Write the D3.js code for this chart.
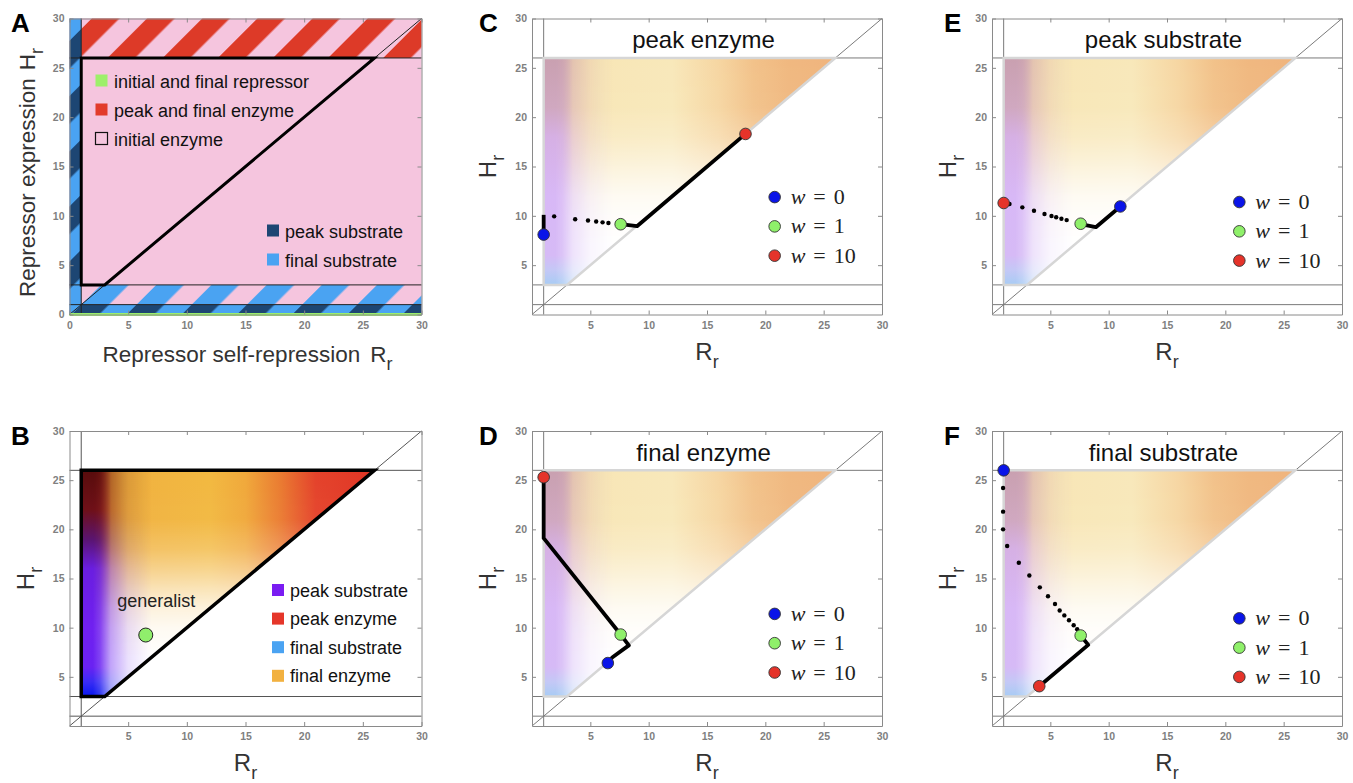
<!DOCTYPE html>
<html>
<head>
<meta charset="utf-8">
<script src="https://cdn.jsdelivr.net/npm/d3@7"></script>
<style>
  body { margin: 0; background: #fff; }
  svg { display: block; font-family: "Liberation Sans", Arial, Helvetica, sans-serif; }
</style>
</head>
<body>
<div id="chart"></div>
<script>
// ---- data ----
const ticksA = [0, 5, 10, 15, 20, 25, 30];
const ticksOther = [5, 10, 15, 20, 25, 30];

// feasible region corners (R_r, H_r)
const regionCorners = [[1, 3], [1, 26], [26, 26], [3, 3]];
const hLevels = [1, 3, 26];
const vLevels = [1];
const diagonal = [[0, 0], [30, 30]];

// panel A regions [x0, x1, y0, y1]
const aRedBand = [1, 30, 26, 30];
const aBlueBand = [1, 30, 1, 3];
const aNavyBand = [0, 30, 0, 1];
const aNavyStrip = [0, 1, 0, 30];
const aLegendTop = ["initial and final repressor", "peak and final enzyme", "initial enzyme"];
const aLegendBottom = ["peak substrate", "final substrate"];

// panel B
const bLegend = ["peak substrate", "peak enzyme", "final substrate", "final enzyme"];
const generalist = [6.5, 9.25];

// panels C-F : optimum as w goes 0 -> 1 -> 10
const wLabels = ["0", "1", "10"];

const cSolid = [[[1, 8.1], [1, 10.1]], [[7.6, 9.15], [9.0, 8.95], [18.2, 18.2]]];
const cDots = [[1.9, 9.95], [3.7, 9.65], [4.8, 9.53], [5.5, 9.43], [6.05, 9.34], [6.55, 9.27]];
const cMarkers = [[1, 8.1], [7.6, 9.15], [18.3, 18.3]];

const dSolid = [[[6.5, 6.4], [6.9, 7.0], [8.3, 8.2], [7.6, 9.3], [1, 19.1], [1, 25.3]]];
const dDots = [];
const dMarkers = [[6.5, 6.4], [7.6, 9.3], [1, 25.3]];

const eSolid = [[[11, 10.95], [8.9, 8.85], [7.6, 9.15]]];
const eDots = [[6.4, 9.57], [5.95, 9.71], [5.5, 9.85], [5.1, 9.98], [4.5, 10.18], [3.6, 10.52], [2.6, 10.86], [1.5, 11.2]];
const eMarkers = [[11, 10.95], [7.6, 9.2], [1, 11.3]];

const fSolid = [[[7.6, 9.2], [8.25, 8.25], [4.05, 4.05]]];
const fDots = [[0.95, 24.2], [0.95, 21.8], [0.95, 20.0], [1.3, 18.3], [2.3, 16.6], [3.2, 15.3], [4.1, 14.1],
               [4.8, 13.2], [5.4, 12.4], [5.8, 11.75], [6.2, 11.25], [6.6, 10.75], [7.0, 10.25], [7.3, 9.85]];
const fMarkers = [[1, 26], [7.6, 9.2], [4.05, 4.05]];

// ---- layout / style ----
const W = 1353, H = 783;
const box = {
    A: {left: 69.5, right: 421.5, top: 18.5, bottom: 314.5},
    B: {left: 69.5, right: 421.5, top: 431, bottom: 726},
    C: {left: 532, right: 882, top: 18.5, bottom: 314.5},
    D: {left: 532, right: 882, top: 431, bottom: 726},
    E: {left: 992, right: 1342, top: 18.5, bottom: 314.5},
    F: {left: 992, right: 1342, top: 431, bottom: 726}
};
const markerColors = ["#0a14e8", "#8ff06a", "#e5332a"];
const pink = "#f5c5de", red = "#dd3a28", blue = "#4aa3f2", navy = "#1d4673";

const svg = d3.select("#chart").append("svg")
    .attr("width", W)
    .attr("height", H);
const defs = svg.append("defs");

function stripes(id, bg, fg) {
    const p = defs.append("pattern")
        .attr("id", id)
        .attr("patternUnits", "userSpaceOnUse")
        .attr("width", 39).attr("height", 39)
        .attr("patternTransform", "rotate(45)");
    p.append("rect").attr("width", 39).attr("height", 39).attr("fill", bg);
    p.append("rect").attr("width", 19.5).attr("height", 39).attr("fill", fg);
}
stripes("stripeRed", pink, red);
stripes("stripeBlue", pink, blue);
stripes("stripeNavy", blue, navy);

// stops: [position in data units, colour, opacity]
function gradient(id, vertical, from, to, stops) {
    const g = defs.append("linearGradient")
        .attr("id", id)
        .attr("x1", 0).attr("y1", 0)
        .attr("x2", vertical ? 0 : 1).attr("y2", vertical ? 1 : 0);
    stops.forEach(s => {
        g.append("stop")
            .attr("offset", (s[0] - from) / (to - from))
            .attr("stop-color", s[1])
            .attr("stop-opacity", s.length > 2 ? s[2] : 1);
    });
}

// top colour field, along R_r (1 -> 26)
gradient("topStrong", false, 1, 26, [[1, "#5c0e0c"], [2.1, "#8a1a12"], [2.8, "#c0502a"], [3.6, "#eea438"], [4.5, "#f0b03e"],
    [12, "#f2b840"], [15, "#f0a83a"], [18, "#ea7a30"], [21, "#e4422a"], [26, "#e03424"]]);
gradient("topPale", false, 1, 26, [[1, "#cfa4b4"], [2.2, "#d8b2b8"], [3.5, "#f6dcb0"], [6, "#f8e6b6"],
    [12, "#f8e8ba"], [16, "#f6d6a2"], [19, "#f2c28a"], [22, "#f0b880"], [26, "#f0b47c"]]);
// left colour field, along H_r (26 at top -> 3 at bottom)
gradient("leftStrong", true, 26, 3, [[26, "#580c0c"], [22, "#6e1018"], [19, "#5a1470"], [16, "#6a1ee0"],
    [10, "#7020f0"], [6, "#6a22f2"], [4.5, "#3a2cf4"], [3, "#0818f0"]]);
gradient("leftPale", true, 26, 3, [[26, "#c9a0b0"], [21, "#d0a8c0"], [18, "#d6b0e4"], [12, "#d8b8f6"],
    [6, "#d6baf6"], [4.5, "#c4c8f6"], [3, "#a8ccf4"]]);
// fades used as masks
gradient("fadeV", true, 26, 3, [[26, "#fff", 1], [21, "#fff", 0.97], [18, "#fff", 0.8], [16, "#fff", 0.6],
    [14, "#fff", 0.38], [12, "#fff", 0.18], [10, "#fff", 0.07], [7, "#fff", 0], [3, "#fff", 0]]);
gradient("fadeH", false, 1, 7, [[1, "#fff", 1], [2, "#fff", 1], [2.6, "#fff", 0.85], [3.5, "#fff", 0.42],
    [5, "#fff", 0.14], [7, "#fff", 0]]);

function mask(id, grad) {
    const m = defs.append("mask")
        .attr("id", id)
        .attr("maskUnits", "objectBoundingBox")
        .attr("maskContentUnits", "objectBoundingBox")
        .attr("x", 0).attr("y", 0).attr("width", 1).attr("height", 1);
    m.append("rect").attr("width", 1).attr("height", 1).attr("fill", `url(#${grad})`);
}
mask("maskTop", "fadeV");
mask("maskLeft", "fadeH");

function scales(b) {
    return {
        x: d3.scaleLinear().domain([0, 30]).range([b.left, b.right]),
        y: d3.scaleLinear().domain([0, 30]).range([b.bottom, b.top])
    };
}

function drawAxes(g, x, y, vals) {
    const ax = g.append("g").attr("class", "ax");
    ax.append("g").attr("transform", `translate(0,${y(0)})`)
        .call(d3.axisBottom(x).tickValues(vals).tickSizeInner(-4).tickSizeOuter(0).tickPadding(7));
    ax.append("g").attr("transform", `translate(0,${y(30)})`)
        .call(d3.axisTop(x).tickValues(vals).tickSizeInner(-4).tickSizeOuter(0).tickFormat(""));
    ax.append("g").attr("transform", `translate(${x(0)},0)`)
        .call(d3.axisLeft(y).tickValues(vals).tickSizeInner(-4).tickSizeOuter(0).tickPadding(5));
    ax.append("g").attr("transform", `translate(${x(30)},0)`)
        .call(d3.axisRight(y).tickValues(vals).tickSizeInner(-4).tickSizeOuter(0).tickFormat(""));
    ax.selectAll("path, line").attr("stroke", "#8a8a8a").attr("stroke-width", 1);
    ax.selectAll("text")
        .attr("fill", "#808080")
        .attr("font-size", 10.5)
        .attr("font-weight", "bold")
        .attr("font-family", "'Liberation Sans', Arial, sans-serif");
}

function guideLines(g, x, y, color) {
    hLevels.forEach(h => {
        g.append("line")
            .attr("x1", x(0)).attr("x2", x(30))
            .attr("y1", y(h)).attr("y2", y(h))
            .attr("stroke", color).attr("stroke-width", 1);
    });
    vLevels.forEach(v => {
        g.append("line")
            .attr("x1", x(v)).attr("x2", x(v))
            .attr("y1", y(0)).attr("y2", y(30))
            .attr("stroke", color).attr("stroke-width", 1);
    });
    g.append("line")
        .attr("x1", x(diagonal[0][0])).attr("y1", y(diagonal[0][1]))
        .attr("x2", x(diagonal[1][0])).attr("y2", y(diagonal[1][1]))
        .attr("stroke", color).attr("stroke-width", 1);
}

function regionPoints(x, y) {
    return regionCorners.map(d => [x(d[0]), y(d[1])]).join(" ");
}

function colourField(g, id, x, y, kind) {
    const pts = regionPoints(x, y);
    defs.append("clipPath").attr("id", "clip" + id).append("polygon").attr("points", pts);
    g.append("polygon").attr("points", pts).attr("fill", "#fff");
    const cg = g.append("g").attr("clip-path", `url(#clip${id})`);
    cg.append("rect")
        .attr("x", x(1)).attr("y", y(26))
        .attr("width", x(26) - x(1)).attr("height", y(3) - y(26))
        .attr("fill", `url(#top${kind})`)
        .attr("mask", "url(#maskTop)");
    cg.append("rect")
        .attr("x", x(1)).attr("y", y(26))
        .attr("width", x(7) - x(1)).attr("height", y(3) - y(26))
        .attr("fill", `url(#left${kind})`)
        .attr("mask", "url(#maskLeft)");
}

function panelLetter(g, letter, px, py) {
    g.append("text")
        .attr("x", px).attr("y", py)
        .attr("font-size", 26).attr("font-weight", "bold").attr("fill", "#000")
        .text(letter);
}

function axisLabels(g, b, xMain, yMain, size, sub) {
    const cx = (b.left + b.right) / 2;
    const xl = g.append("text")
        .attr("x", cx).attr("y", b.bottom + 45)
        .attr("text-anchor", "middle")
        .attr("font-size", size).attr("fill", "#333");
    xl.append("tspan").text(xMain);
    xl.append("tspan").attr("font-size", sub).attr("dy", 8).text("r");

    const cy = (b.top + b.bottom) / 2;
    const yl = g.append("text")
        .attr("transform", `translate(${b.left - 36},${cy}) rotate(-90)`)
        .attr("text-anchor", "middle")
        .attr("font-size", size).attr("fill", "#333");
    yl.append("tspan").text(yMain);
    yl.append("tspan").attr("font-size", sub).attr("dy", 8).text("r");
}

// ---------- Panel A ----------
(function () {
    const b = box.A, {x, y} = scales(b);
    const g = svg.append("g");

    g.append("rect")
        .attr("x", x(0)).attr("y", y(30))
        .attr("width", x(30) - x(0)).attr("height", y(0) - y(30))
        .attr("fill", pink);

    [[aRedBand, "stripeRed"], [aBlueBand, "stripeBlue"], [aNavyBand, "stripeNavy"], [aNavyStrip, "stripeNavy"]]
        .forEach(([r, pat]) => {
            g.append("rect")
                .attr("x", x(r[0])).attr("y", y(r[3]))
                .attr("width", x(r[1]) - x(r[0])).attr("height", y(r[2]) - y(r[3]))
                .attr("fill", `url(#${pat})`);
        });

    guideLines(g, x, y, "#222");

    g.append("polygon")
        .attr("points", regionPoints(x, y))
        .attr("fill", "none")
        .attr("stroke", "#000")
        .attr("stroke-width", 3)
        .attr("stroke-linejoin", "miter");

    g.append("line")
        .attr("x1", x(0)).attr("x2", x(30))
        .attr("y1", y(0)).attr("y2", y(0))
        .attr("stroke", "#9cef6c").attr("stroke-width", 3);

    drawAxes(g, x, y, ticksA);

    // legends
    const topFill = ["#9df06a", "#e23b2b", "none"];
    aLegendTop.forEach((t, i) => {
        const ly = 81 + i * 29;
        g.append("rect")
            .attr("x", 95.5).attr("y", ly - 6.5).attr("width", 12).attr("height", 12)
            .attr("fill", topFill[i])
            .attr("stroke", i === 2 ? "#111" : "none").attr("stroke-width", 1.2);
        g.append("text").attr("x", 114).attr("y", ly + 6.5)
            .attr("font-size", 18).attr("fill", "#111").text(t);
    });
    const botFill = [navy, blue];
    aLegendBottom.forEach((t, i) => {
        const ly = 231 + i * 29;
        g.append("rect")
            .attr("x", 267).attr("y", ly - 6.5).attr("width", 12).attr("height", 12)
            .attr("fill", botFill[i]);
        g.append("text").attr("x", 285).attr("y", ly + 6.5)
            .attr("font-size", 18).attr("fill", "#111").text(t);
    });

    panelLetter(g, "A", 11, 32);

    const xl = g.append("text")
        .attr("x", (b.left + b.right) / 2 + 2).attr("y", b.bottom + 47)
        .attr("text-anchor", "middle").attr("font-size", 22.5).attr("fill", "#333");
    xl.append("tspan").text("Repressor self-repression");
    xl.append("tspan").attr("dx", 10).text("R");
    xl.append("tspan").attr("font-size", 18).attr("dy", 8).text("r");

    const yl = g.append("text")
        .attr("transform", `translate(${b.left - 35},${(b.top + b.bottom) / 2 + 6}) rotate(-90)`)
        .attr("text-anchor", "middle").attr("font-size", 22.5).attr("fill", "#333");
    yl.append("tspan").text("Repressor expression");
    yl.append("tspan").attr("dx", 8).text("H");
    yl.append("tspan").attr("font-size", 18).attr("dy", 8).text("r");
})();

// ---------- Panel B ----------
(function () {
    const b = box.B, {x, y} = scales(b);
    const g = svg.append("g");

    guideLines(g, x, y, "#555");
    colourField(g, "B", x, y, "Strong");

    g.append("polygon")
        .attr("points", regionPoints(x, y))
        .attr("fill", "none")
        .attr("stroke", "#000")
        .attr("stroke-width", 3.5);

    g.append("text")
        .attr("x", x(7.4)).attr("y", y(12.1))
        .attr("text-anchor", "middle")
        .attr("font-size", 18).attr("fill", "#222")
        .text("generalist");

    g.append("circle")
        .attr("cx", x(generalist[0])).attr("cy", y(generalist[1]))
        .attr("r", 7)
        .attr("fill", "#90ee6c").attr("stroke", "#222").attr("stroke-width", 1);

    const legFill = ["#7a1cf2", "#e5362a", "#4aa3f2", "#f2b140"];
    bLegend.forEach((t, i) => {
        const ly = 590 + i * 28.6;
        g.append("rect")
            .attr("x", 272).attr("y", ly - 6).attr("width", 12).attr("height", 12)
            .attr("fill", legFill[i]);
        g.append("text").attr("x", 290).attr("y", ly + 6.5)
            .attr("font-size", 18).attr("fill", "#111").text(t);
    });

    drawAxes(g, x, y, ticksOther);
    panelLetter(g, "B", 11, 445);
    axisLabels(g, b, "R", "H", 24, 18);
})();

// ---------- Panels C-F ----------
const trajPanels = [
    {id: "C", title: "peak enzyme", solid: cSolid, dots: cDots, markers: cMarkers, leg: [20.8, 11.9], letter: [479, 32]},
    {id: "D", title: "final enzyme", solid: dSolid, dots: dDots, markers: dMarkers, leg: [20.8, 11.4], letter: [479, 445]},
    {id: "E", title: "peak substrate", solid: eSolid, dots: eDots, markers: eMarkers, leg: [21.2, 11.4], letter: [944, 32]},
    {id: "F", title: "final substrate", solid: fSolid, dots: fDots, markers: fMarkers, leg: [21.2, 10.95], letter: [944, 445]}
];

trajPanels.forEach(p => {
    const b = box[p.id], {x, y} = scales(b);
    const g = svg.append("g");

    guideLines(g, x, y, "#7a7a7a");
    colourField(g, p.id, x, y, "Pale");

    g.append("polygon")
        .attr("points", regionPoints(x, y))
        .attr("fill", "none")
        .attr("stroke", "#d6d6d6")
        .attr("stroke-width", 2.5);

    g.append("text")
        .attr("x", x(14.7)).attr("y", y(27))
        .attr("text-anchor", "middle")
        .attr("font-size", 24).attr("fill", "#111")
        .text(p.title);

    const line = d3.line().x(d => x(d[0])).y(d => y(d[1]));
    p.solid.forEach(seg => {
        g.append("path")
            .attr("d", line(seg))
            .attr("fill", "none")
            .attr("stroke", "#000")
            .attr("stroke-width", 3.8)
            .attr("stroke-linejoin", "round");
    });
    g.selectAll(".dot").data(p.dots).enter().append("circle")
        .attr("cx", d => x(d[0])).attr("cy", d => y(d[1]))
        .attr("r", 2.2).attr("fill", "#000");

    g.selectAll(".mk").data(p.markers).enter().append("circle")
        .attr("cx", d => x(d[0])).attr("cy", d => y(d[1]))
        .attr("r", 5.8)
        .attr("fill", (d, i) => markerColors[i])
        .attr("stroke", "#333").attr("stroke-width", 0.9);

    // legend
    wLabels.forEach((w, i) => {
        const lx = x(p.leg[0]), ly = y(p.leg[1]) + i * 29.3;
        g.append("circle")
            .attr("cx", lx).attr("cy", ly).attr("r", 5.8)
            .attr("fill", markerColors[i])
            .attr("stroke", "#333").attr("stroke-width", 0.9);
        const t = g.append("text")
            .attr("x", lx + 16).attr("y", ly + 7)
            .attr("font-family", "'Liberation Serif', 'Times New Roman', serif")
            .attr("font-size", 22).attr("fill", "#222");
        t.append("tspan").attr("font-style", "italic").text("w");
        t.append("tspan").attr("dx", 8).text("=");
        t.append("tspan").attr("dx", 8).text(w);
    });

    drawAxes(g, x, y, ticksOther);
    panelLetter(g, p.id, p.letter[0], p.letter[1]);
    axisLabels(g, b, "R", "H", 24, 18);
});
</script>
</body>
</html>
